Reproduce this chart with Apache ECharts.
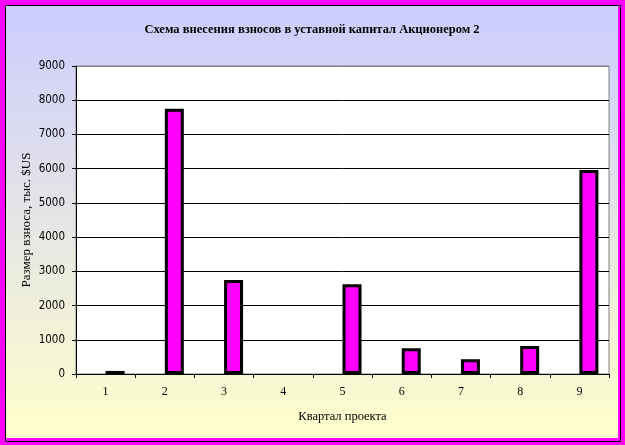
<!DOCTYPE html>
<html>
<head>
<meta charset="utf-8">
<script src="https://cdn.jsdelivr.net/npm/echarts@6/dist/echarts.min.js"></script>
<style>
  html, body { margin: 0; padding: 0; background: #FF00FF; width: 625px; height: 445px; overflow: hidden; }
  #frame { position: absolute; left: 5px; top: 5px; width: 614px; height: 435px; border: 1px solid #000; background: #FF00FF; }
  #chart { position: absolute; left: 0; top: 0; width: 612px; height: 432px; }
</style>
</head>
<body>
<div id="frame"><div id="chart"></div></div>
<script>
const titleText = 'Схема внесения взносов в уставной капитал Акционером 2';
const xAxisTitle = 'Квартал проекта';
const yAxisTitle = 'Размер взноса, тыс. $US';
const categories = ['1', '2', '3', '4', '5', '6', '7', '8', '9'];
const hiddenSeriesValues = [null, null, null, null, null, null, null, null, null];
const contributionValues = [90, 7750, 2750, null, 2620, 750, 430, 820, 5960];
const yMin = 0;
const yMax = 9000;
const yInterval = 1000;

const chart = echarts.init(document.getElementById('chart'), null, { renderer: 'canvas' });
const splitColors = ['#000','#000','#000','#000','#000','#000','#000','#000','#000','#808080'];
chart.setOption({
  animation: false,
  backgroundColor: new echarts.graphic.LinearGradient(0, 0, 0, 1, [
    { offset: 0, color: '#CCCCFF' },
    { offset: 1, color: '#FFFFCC' }
  ]),
  title: {
    text: titleText,
    left: 'center',
    top: 12,
    textStyle: { fontFamily: "'Liberation Serif', 'Times New Roman', serif", fontSize: 12.5, fontWeight: 'bold', color: '#000' }
  },
  grid: {
    left: 70, right: 9, top: 60, bottom: 64,
    show: true, backgroundColor: '#FFFFFF', borderColor: '#808080', borderWidth: 1
  },
  xAxis: {
    type: 'category',
    data: categories,
    name: xAxisTitle,
    nameLocation: 'middle',
    nameGap: 36,
    nameMoveOverlap: false,
    nameTextStyle: { fontFamily: "'Liberation Serif', serif", fontSize: 12.5, color: '#000' },
    axisLine: { lineStyle: { color: '#000', width: 1 } },
    axisTick: { show: true, length: 4, lineStyle: { color: '#000' } },
    axisLabel: { margin: 12, fontFamily: "'Liberation Serif', serif", fontSize: 12, color: '#000' },
    splitLine: { show: false }
  },
  yAxis: {
    type: 'value',
    min: yMin, max: yMax, interval: yInterval,
    name: yAxisTitle,
    nameLocation: 'middle',
    nameGap: 43,
    nameMoveOverlap: false,
    nameRotate: 90,
    nameTextStyle: { fontFamily: "'Liberation Serif', serif", fontSize: 13, color: '#000' },
    axisLine: { show: true, lineStyle: { color: '#000', width: 1 } },
    axisTick: { show: true, length: 4, lineStyle: { color: '#000' } },
    axisLabel: {
      margin: 11,
      formatter: function (v) { return String(v); },
      fontFamily: "'Liberation Sans Narrow', 'DejaVu Sans Condensed', sans-serif", fontSize: 11.5, color: '#000'
    },
    splitLine: { show: true, lineStyle: { color: splitColors, width: 1 } }
  },
  series: [
    {
      type: 'bar',
      name: 'hidden',
      data: hiddenSeriesValues,
      barWidth: 19,
      barGap: '0%',
      itemStyle: { color: 'transparent' }
    },
    {
      type: 'bar',
      name: 'Акционер 2',
      data: contributionValues,
      barWidth: 19,
      barGap: '0%',
      itemStyle: { color: '#FF00FF', borderColor: '#000', borderWidth: 3 }
    }
  ]
});
</script>
</body>
</html>
